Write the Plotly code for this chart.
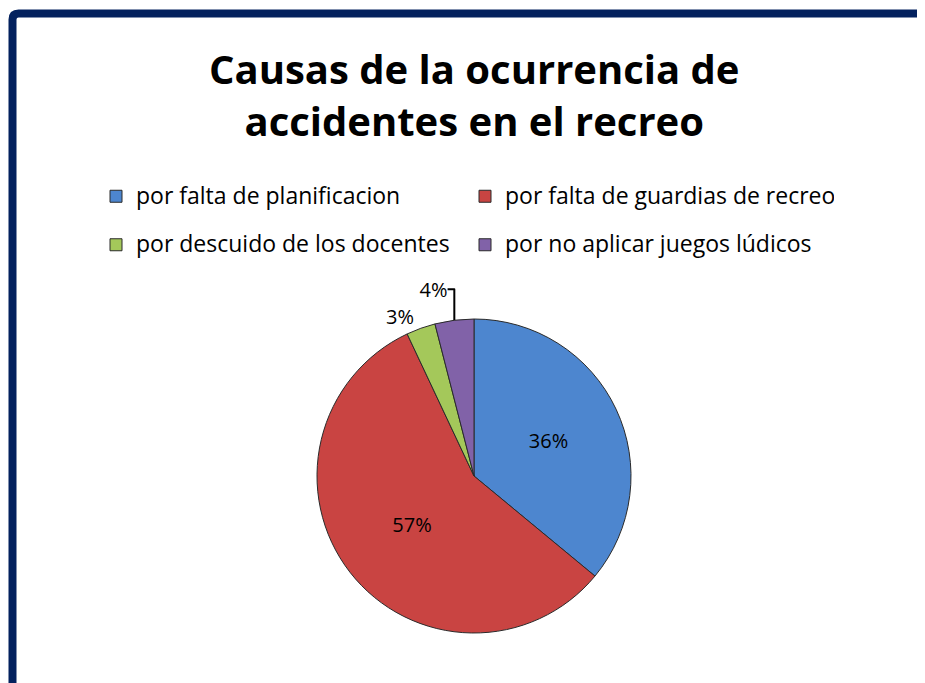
import plotly.graph_objects as go

# Data
labels = ['por falta de planificacion', 'por falta de guardias de recreo',
          'por descuido de los docentes', 'por no aplicar juegos lúdicos']
values = [36, 57, 3, 4]
colors = ['#4D86CF', '#C94442', '#A4C85A', '#8162A8']

# the page body adds an 8px margin, so the figure is a bit smaller than the window
OFF = 8
W, H = 925 - OFF, 683 - OFF


def px(x):
    return (x - OFF) / W


def py(y):
    return 1 - (y - OFF) / H


# legend text is drawn smaller than the legend font so the rows get more air
legend_names = [f'<span style="font-size:23px;baseline-shift:6px">{t}</span>' for t in labels]

fig = go.Figure()

fig.add_trace(go.Pie(
    labels=legend_names,
    values=values,
    sort=False,
    direction='clockwise',
    rotation=0,
    marker=dict(colors=colors, line=dict(color='#2a2a2a', width=1)),
    textinfo='percent',
    texttemplate='%{percent:.0%}',
    textposition=['inside', 'inside', 'outside', 'outside'],
    insidetextorientation='horizontal',
    textfont=dict(family='Open Sans', size=20, color='black'),
    outsidetextfont=dict(family='Open Sans', size=20, color='black'),
    insidetextfont=dict(family='Open Sans', size=20, color='black'),
    domain=dict(x=[px(317), px(631)], y=[py(633), py(319)]),
    showlegend=True,
    hoverinfo='percent',
))

# Dark navy frame, rounded at top-left, running off the right and bottom
r = 6
x0 = px(12.5)
y0 = py(13.5)
border_path = (f'M {x0},-0.1 L {x0},{y0 - r / H} '
               f'Q {x0},{y0} {x0 + r / W},{y0} L 1.1,{y0}')

fig.update_layout(
    width=W,
    height=H,
    margin=dict(l=0, r=0, t=0, b=0),
    paper_bgcolor='white',
    plot_bgcolor='white',
    font=dict(family='Open Sans', color='black'),
    annotations=[dict(
        text='<b>Causas de la ocurrencia de<br>accidentes en el recreo</b>',
        xref='paper', yref='paper',
        x=px(474), xanchor='center',
        y=py(39), yanchor='top',
        showarrow=False,
        font=dict(family='Open Sans', size=40, color='black'),
    )],
    legend=dict(
        orientation='h',
        x=px(96), xanchor='left',
        y=py(167), yanchor='top',
        entrywidth=324,
        entrywidthmode='pixels',
        font=dict(family='Open Sans', size=35, color='black'),
        itemwidth=30,
        traceorder='normal',
    ),
    shapes=[dict(type='path', xref='paper', yref='paper', path=border_path,
                 line=dict(color='#03215E', width=8))],
)

fig.write_html('out.html')
